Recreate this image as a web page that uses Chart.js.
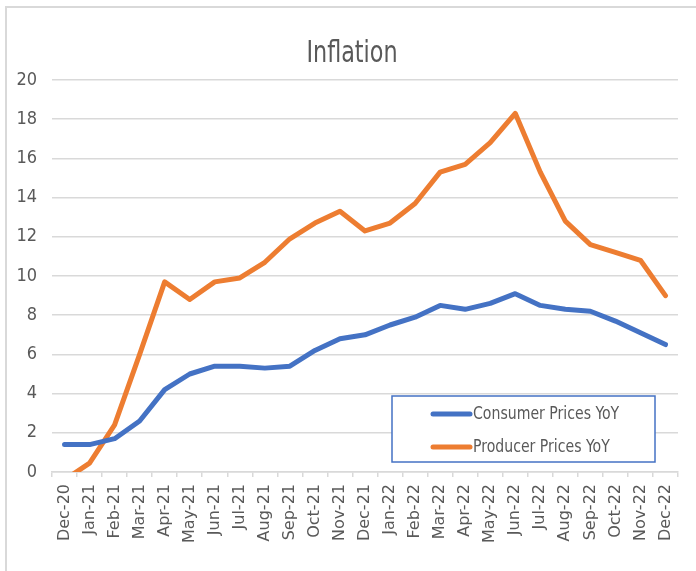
<!DOCTYPE html>
<html>
<head>
<meta charset="utf-8">
<script src="https://cdn.jsdelivr.net/npm/chart.js@4"></script>
<style>
  html, body { margin: 0; padding: 0; background: #ffffff; }
  #wrap { width: 696px; height: 571px; position: relative; }
</style>
</head>
<body>
<div id="wrap"><canvas id="c" width="696" height="571"></canvas></div>
<script>
const titleText = "Inflation";
const months = ["Dec-20","Jan-21","Feb-21","Mar-21","Apr-21","May-21","Jun-21","Jul-21","Aug-21","Sep-21","Oct-21","Nov-21",
                "Dec-21","Jan-22","Feb-22","Mar-22","Apr-22","May-22","Jun-22","Jul-22","Aug-22","Sep-22","Oct-22","Nov-22","Dec-22"];
const consumerLabel = "Consumer Prices YoY";
const producerLabel = "Producer Prices YoY";
const consumerPrices = [1.4,1.4,1.7,2.6,4.2,5.0,5.4,5.4,5.3,5.4,6.2,6.8,7.0,7.5,7.9,8.5,8.3,8.6,9.1,8.5,8.3,8.2,7.7,7.1,6.5];
const producerPrices = [-0.4,0.45,2.4,6.0,9.7,8.8,9.7,9.9,10.7,11.9,12.7,13.3,12.3,12.7,13.7,15.3,15.7,16.8,18.3,15.3,12.8,11.6,11.2,10.8,9.0];
const yMin = 0, yMax = 20, yStep = 2;

const NARROW = '"Liberation Sans Narrow", "DejaVu Sans Condensed", "Liberation Sans", sans-serif';
const GRAY_TXT = '#595959';
const GRID = '#d9d9d9';
const BLUE = '#4472C4';
const ORANGE = '#ED7D31';

const framePlugin = {
  id: 'frame',
  beforeDraw(chart) {
    const ctx = chart.ctx;
    ctx.save();
    ctx.strokeStyle = GRID;
    ctx.lineWidth = 2;
    ctx.beginPath();
    ctx.moveTo(6, chart.height);
    ctx.lineTo(6, 7);
    ctx.lineTo(chart.width, 7);
    ctx.stroke();
    ctx.restore();
  }
};

function narrowText(ctx, text, x, y, size, sx, align, baseline) {
  ctx.save();
  ctx.translate(x, y);
  ctx.scale(sx, 1);
  ctx.font = size + 'px ' + NARROW;
  ctx.fillStyle = GRAY_TXT;
  ctx.textAlign = align;
  ctx.textBaseline = baseline;
  ctx.fillText(text, 0, 0);
  ctx.restore();
}

const titlePlugin = {
  id: 'narrowTitle',
  afterDraw(chart) {
    narrowText(chart.ctx, titleText, 352, 62, 31, 0.8, 'center', 'alphabetic');
  }
};

const legendBoxPlugin = {
  id: 'legendBox',
  afterDraw(chart) {
    const ctx = chart.ctx;
    const bx = 392, by = 396, bw = 263, bh = 66;
    ctx.save();
    ctx.fillStyle = '#ffffff';
    ctx.fillRect(bx, by, bw, bh);
    ctx.strokeStyle = BLUE;
    ctx.lineWidth = 1.5;
    ctx.strokeRect(bx, by, bw, bh);
    ctx.restore();
    const rows = [414, 447];
    chart.data.datasets.forEach((ds, i) => {
      const y = rows[i];
      ctx.save();
      ctx.strokeStyle = ds.borderColor;
      ctx.lineWidth = 5;
      ctx.lineCap = 'round';
      ctx.beginPath();
      ctx.moveTo(433, y);
      ctx.lineTo(470, y);
      ctx.stroke();
      ctx.restore();
      narrowText(ctx, ds.label, 473, y, 18, 0.87, 'left', 'middle');
    });
  }
};

new Chart(document.getElementById('c'), {
  type: 'line',
  data: {
    labels: months,
    datasets: [
      { label: consumerLabel, data: consumerPrices, borderColor: BLUE, backgroundColor: BLUE,
        borderWidth: 5, pointRadius: 0, tension: 0, borderCapStyle: 'round', borderJoinStyle: 'round', clip: 0 },
      { label: producerLabel, data: producerPrices, borderColor: ORANGE, backgroundColor: ORANGE,
        borderWidth: 5, pointRadius: 0, tension: 0, borderCapStyle: 'round', borderJoinStyle: 'round', clip: 0 }
    ]
  },
  options: {
    responsive: false,
    animation: false,
    devicePixelRatio: 1,
    layout: { padding: { left: 0, right: 18, top: 80, bottom: 0 } },
    plugins: {
      legend: { display: false },
      tooltip: { enabled: false },
      title: { display: false, text: titleText }
    },
    scales: {
      x: {
        type: 'category',
        offset: true,
        grid: { display: true, drawOnChartArea: false, drawTicks: true, tickLength: 5, color: GRID, lineWidth: 1.5, offset: true },
        border: { display: true, color: GRID, width: 1.5 },
        ticks: {
          autoSkip: false, maxRotation: 90, minRotation: 90,
          color: GRAY_TXT, padding: 7,
          font: { family: '"DejaVu Sans", sans-serif', size: 16 }
        },
        afterFit(scale) { scale.height = 99; }
      },
      y: {
        min: yMin, max: yMax,
        grid: { color: GRID, lineWidth: 1.5, drawTicks: false },
        border: { display: false },
        ticks: {
          stepSize: yStep, color: GRAY_TXT, padding: 15,
          font: { family: NARROW, size: 18 }
        },
        afterFit(scale) { scale.width = 52; }
      }
    }
  },
  plugins: [framePlugin, titlePlugin, legendBoxPlugin]
});
</script>
</body>
</html>
